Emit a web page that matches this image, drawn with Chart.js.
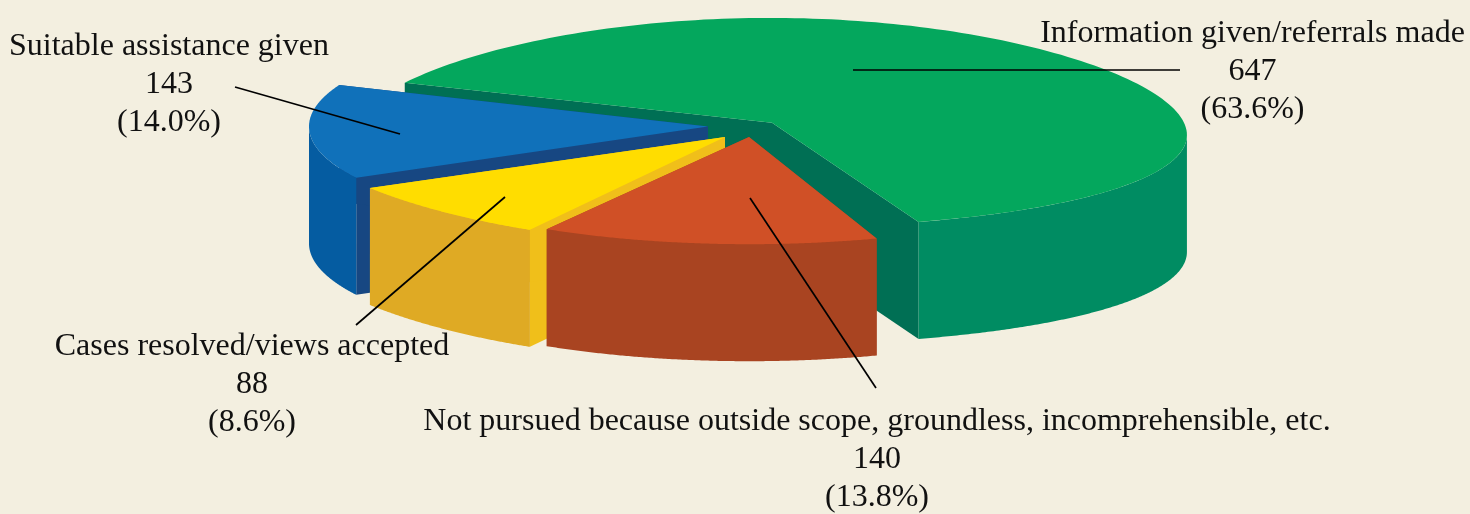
<!DOCTYPE html>
<html>
<head>
<meta charset="utf-8">
<title>Outcome of cases</title>
<style>
  html, body { margin: 0; padding: 0; background: #f3efe0; }
  canvas { display: block; }
</style>
<script src="https://cdn.jsdelivr.net/npm/chart.js@4"></script>
</head>
<body>
<canvas id="pie" width="1470" height="514"></canvas>
<script>
// chart values, slice order is clockwise from the green one
const categories = [
  'Information given/referrals made',
  'Not pursued because outside scope, groundless, incomprehensible, etc.',
  'Cases resolved/views accepted',
  'Suitable assistance given'
];
const counts = [647, 140, 88, 143];
const percents = ['63.6', '13.8', '8.6', '14.0'];

const topColors = ['#04a75d', '#d05026', '#ffdd00', '#1071ba'];
const wallColors = ['#008c62', '#a94421', '#dfaa24', '#055ca1'];
const faceColors = ['#006f54', '#a94421', '#f0bf1a', '#174782'];

// per slice look of the fake 3D: explode shift, ellipse scale, keystone
const sliceLook = [
  { dx: 27, dy: -4.3, sx: 1.035, sy: 0.262, warp: 0.12, ex: -2 },
  { dx: 4, dy: 10, sx: 0.99, sy: 0.268, warp: 0, ex: 0 },
  { dx: -20, dy: 10, sx: 1.07, sy: 0.27, warp: -0.125, ex: 0 },
  { dx: -37, dy: -0.5, sx: 0.9975, sy: 0.272, warp: 0, ex: 0 }
];
const paintOrder = [0, 3, 2, 1]; // back to front
const DEPTH = 117;

// text blocks: centre x, first baseline, then the leader line
const labelLook = [
  { x: 1252.5, y: 41.5, line: [853, 70, 1180, 70] },
  { x: 877, y: 430, line: [750, 198, 876, 388] },
  { x: 252, y: 355, line: [505, 197, 356, 325] },
  { x: 169, y: 54.5, line: [235, 87, 400, 134] }
];
const LINE_HEIGHT = 38;

function project(arc, look, angle, t) {
  const X = Math.cos(angle) * t;
  const Y = Math.sin(angle) * t;
  const R = arc.outerRadius;
  return {
    x: arc.x + look.dx + look.ex * t + R * look.sx * X * (1 + look.warp * Y),
    y: arc.y + look.dy + R * look.sy * Y
  };
}

function fillPoly(ctx, pts, color) {
  ctx.beginPath();
  pts.forEach((p, i) => (i ? ctx.lineTo(p.x, p.y) : ctx.moveTo(p.x, p.y)));
  ctx.closePath();
  ctx.fillStyle = color;
  ctx.fill();
}

function sideFace(arc, look, angle) {
  const tip = project(arc, look, angle, 0);
  const rim = project(arc, look, angle, 1);
  return [tip, rim, { x: rim.x, y: rim.y + DEPTH }, { x: tip.x, y: tip.y + DEPTH }];
}

function rimPoints(arc, look, from, to, drop) {
  const pts = [];
  const steps = 160;
  for (let k = 0; k <= steps; k++) {
    const p = project(arc, look, from + ((to - from) * k) / steps, 1);
    pts.push({ x: p.x, y: p.y + drop });
  }
  return pts;
}

const pie3d = {
  id: 'pie3d',
  // the arcs keep their geometry from Chart.js, only the painting is ours
  beforeDatasetDraw(chart) {
    const ctx = chart.ctx;
    const arcs = chart.getDatasetMeta(0).data;
    paintOrder.forEach((i) => {
      const arc = arcs[i];
      const look = sliceLook[i];
      const start = arc.startAngle;
      const end = arc.endAngle;
      fillPoly(ctx, sideFace(arc, look, start), faceColors[i]);
      fillPoly(ctx, sideFace(arc, look, end), faceColors[i]);
      // wall starts at the silhouette, which the keystone moves off angle 0
      const lo = Math.max(start, Math.asin(look.warp));
      const hi = Math.min(end, Math.PI);
      if (hi > lo) {
        const wall = rimPoints(arc, look, lo, hi, 0)
          .concat(rimPoints(arc, look, lo, hi, DEPTH).reverse());
        fillPoly(ctx, wall, wallColors[i]);
      }
      const top = [project(arc, look, start, 0)].concat(rimPoints(arc, look, start, end, 0));
      fillPoly(ctx, top, arc.options.backgroundColor);
    });
    return false;
  },
  afterDraw(chart) {
    const ctx = chart.ctx;
    ctx.save();
    ctx.strokeStyle = '#000';
    ctx.lineWidth = 1.7;
    labelLook.forEach((l) => {
      ctx.beginPath();
      ctx.moveTo(l.line[0], l.line[1]);
      ctx.lineTo(l.line[2], l.line[3]);
      ctx.stroke();
    });
    ctx.fillStyle = '#111';
    ctx.font = '32px "Liberation Serif"';
    ctx.textAlign = 'center';
    categories.forEach((name, i) => {
      const l = labelLook[i];
      ctx.fillText(name, l.x, l.y);
      ctx.fillText(String(counts[i]), l.x, l.y + LINE_HEIGHT);
      ctx.fillText(`(${percents[i]}%)`, l.x, l.y + LINE_HEIGHT * 2);
    });
    ctx.restore();
  }
};

new Chart(document.getElementById('pie'), {
  type: 'pie',
  data: {
    labels: categories,
    datasets: [{ data: counts, backgroundColor: topColors, borderWidth: 0 }]
  },
  options: {
    responsive: false,
    animation: false,
    rotation: -67.6,
    radius: 400,
    layout: { padding: { left: 20, bottom: 260 } },
    plugins: { legend: { display: false }, tooltip: { enabled: false } }
  },
  plugins: [pie3d]
});
</script>
</body>
</html>
